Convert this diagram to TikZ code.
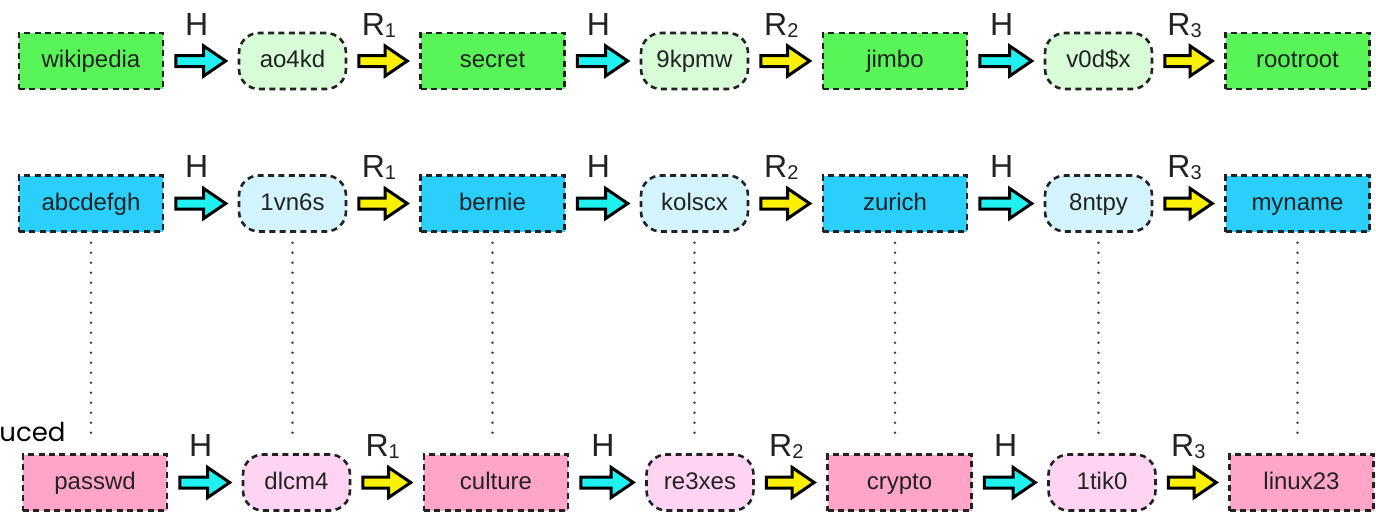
\documentclass[tikz,border=0pt]{standalone}
\usepackage{fontspec}
\setmainfont{Liberation Sans}
\newfontfamily\capfont{Poppins}
\usetikzlibrary{calc}
\definecolor{gbox}{HTML}{58F458}
\definecolor{glt}{HTML}{D7FCD7}
\definecolor{bbox}{HTML}{2AD0FB}
\definecolor{blt}{HTML}{D4F4FD}
\definecolor{pbox}{HTML}{FFA5C9}
\definecolor{plt}{HTML}{FFD4F2}
\definecolor{harr}{HTML}{1FF0F0}
\definecolor{rarr}{HTML}{FAF000}
\definecolor{ink}{HTML}{222222}
\tikzset{
  basebox/.style={draw=ink, line width=1.3pt, dash pattern=on 3pt off 2.2pt,
    minimum height=28pt, inner sep=0pt, text height=9pt, text depth=2.5pt,
    text=ink, font=\fontsize{12}{14}\selectfont},
  pwbox/.style={basebox, rectangle, minimum width=72pt},
  hashbox/.style={basebox, rectangle, rounded corners=10pt, minimum width=53.5pt},
  arrlbl/.style={inner sep=0pt, text=ink, font=\fontsize{16}{18}\selectfont},
  dotline/.style={draw=black!75, line width=1.4pt, line cap=round, dash pattern=on 0pt off 5pt},
  blockarr/.style={draw=black, line width=1.5pt, line join=miter}
}
\newcommand\blockarrow[4]{%
  \path[blockarr, fill=#3]
    let \p1=($(#1.east)+(5.75pt,0)$), \p2=($(#2.west)+(-6pt,0)$) in
    (\x1,\y1+2.75pt) -- (\x2-11pt,\y1+2.75pt) -- (\x2-11pt,\y1+7.5pt) -- (\x2,\y1)
    -- (\x2-11pt,\y1-7.5pt) -- (\x2-11pt,\y1-2.75pt) -- (\x1,\y1-2.75pt) -- cycle
    node[arrlbl, anchor=base] at ({0.5*\x1+0.5*\x2-2pt},\y1+13pt) {#4};}
\newcommand\rsub[1]{R\raisebox{-1pt}{\fontsize{10}{10}\selectfont #1}}
\begin{document}
\begin{tikzpicture}[x=0.5pt,y=-0.5pt]
\useasboundingbox (0,0) rectangle (1376,514);
% top row
\node[pwbox, fill=gbox] (g0) at (91,61) {wikipedia};
\node[hashbox, fill=glt] (g1) at (292.5,61) {ao4kd};
\node[pwbox, fill=gbox] (g2) at (492.5,61) {secret};
\node[hashbox, fill=glt] (g3) at (694.5,61) {9kpmw};
\node[pwbox, fill=gbox] (g4) at (895,61) {jimbo};
\node[hashbox, fill=glt] (g5) at (1098.5,61) {v0d\$x};
\node[pwbox, fill=gbox] (g6) at (1297.5,61) {rootroot};
% middle row
\node[pwbox, fill=bbox] (m0) at (91,203.5) {abcdefgh};
\node[hashbox, fill=blt] (m1) at (292.5,203.5) {1vn6s};
\node[pwbox, fill=bbox] (m2) at (492.5,203.5) {bernie};
\node[hashbox, fill=blt] (m3) at (694.5,203.5) {kolscx};
\node[pwbox, fill=bbox] (m4) at (895,203.5) {zurich};
\node[hashbox, fill=blt] (m5) at (1098.5,203.5) {8ntpy};
\node[pwbox, fill=bbox] (m6) at (1297.5,203.5) {myname};
% bottom row
\node[pwbox, fill=pbox] (b0) at (95,482.5) {passwd};
\node[hashbox, fill=plt] (b1) at (296.5,482.5) {dlcm4};
\node[pwbox, fill=pbox] (b2) at (496,482.5) {culture};
\node[hashbox, fill=plt] (b3) at (700,482.5) {re3xes};
\node[pwbox, fill=pbox] (b4) at (899.5,482.5) {crypto};
\node[hashbox, fill=plt] (b5) at (1102,482.5) {1tik0};
\node[pwbox, fill=pbox] (b6) at (1301.5,482.5) {linux23};
% arrows
\foreach \r in {g,m,b}{
  \blockarrow{\r0}{\r1}{harr}{H}
  \blockarrow{\r1}{\r2}{rarr}{\rsub{1}}
  \blockarrow{\r2}{\r3}{harr}{H}
  \blockarrow{\r3}{\r4}{rarr}{\rsub{2}}
  \blockarrow{\r4}{\r5}{harr}{H}
  \blockarrow{\r5}{\r6}{rarr}{\rsub{3}}
}
% dotted links
\foreach \i in {0,...,6}{
  \draw[dotline] ($(m\i.south)+(0,10)$) -- ($(m\i.south |- b\i.north)+(0,-12)$);
}
\node[anchor=base west, inner sep=0pt, font=\capfont\fontsize{13}{15}\selectfont] (cut) at (-1,441) {uced};
\end{tikzpicture}
\end{document}
